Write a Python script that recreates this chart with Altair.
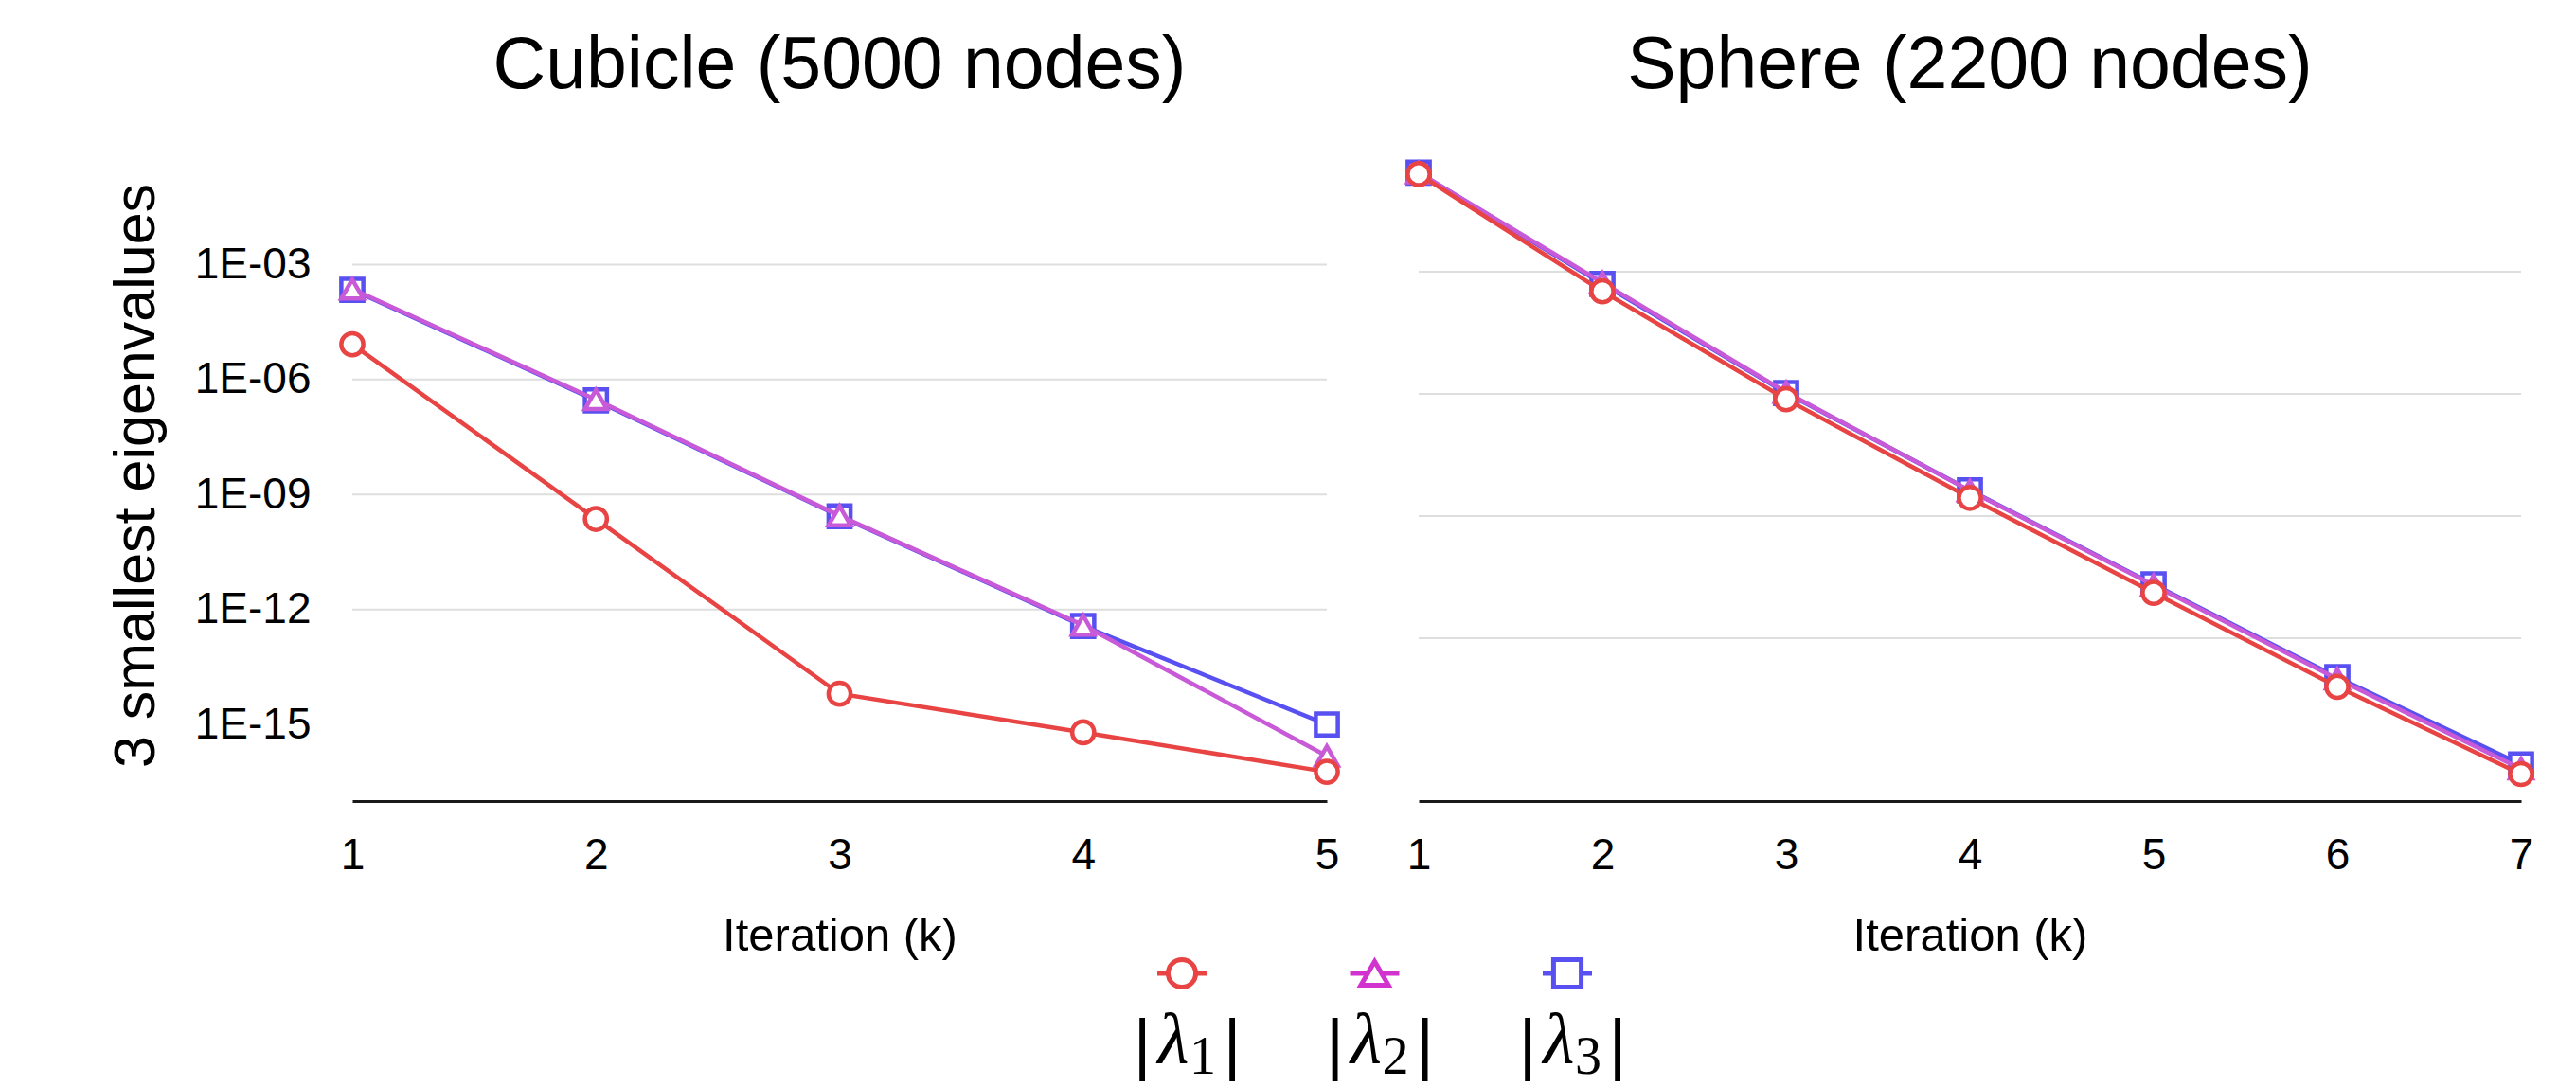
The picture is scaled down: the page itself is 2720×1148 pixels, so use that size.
import altair as alt
import pandas as pd

# ---------------- data ----------------
series_names = ["λ1", "λ2", "λ3"]
series_subs = ["1", "2", "3"]
series_colors = ["#E84444", "#C85AD7", "#5850F0"]
legend_colors = ["#E84444", "#D233CE", "#5850F0"]
series_shapes = ["circle", "triangle-up", "square"]

cube_iter = [1, 2, 3, 4, 5]
cube_l1 = [8.3e-6, 2.3e-10, 6.3e-15, 6.2e-16, 5.8e-17]
cube_l2 = [2.3e-4, 3.0e-7, 2.8e-10, 3.9e-13, 1.5e-16]
cube_l3 = [2.2e-4, 2.85e-7, 2.7e-10, 3.7e-13, 1.0e-15]

sph_iter = [1, 2, 3, 4, 5, 6, 7]
sph_l1 = [0.25, 3.3e-4, 7.4e-7, 2.8e-9, 1.3e-11, 6.4e-14, 4.6e-16]
sph_l2 = [0.27, 5.4e-4, 1.1e-6, 4.2e-9, 2.0e-11, 1.0e-13, 6.2e-16]
sph_l3 = [0.27, 5.0e-4, 1.05e-6, 4.3e-9, 2.1e-11, 1.1e-13, 7.9e-16]

y_tick_vals = [1e-3, 1e-6, 1e-9, 1e-12, 1e-15]
grid_vals = [1e-3, 1e-6, 1e-9, 1e-12]

FONT = "Liberation Sans"
LABEL_EXPR = ("'1E-' + (-round(log(datum.value)/LN10) < 10 ? '0' : '') + "
              "(-round(log(datum.value)/LN10))")
PLOT_H = 688
LEG_Y = 526  # legend row offset below the panel's vertical centre


def legend_layer():
    leg_df = pd.DataFrame({"s": series_names, "sub": series_subs})
    lx = alt.X("s:N", scale=alt.Scale(type="point", domain=series_names,
                                      range=[876, 1283], padding=0), axis=None)
    leg_color = alt.Color("s:N", scale=alt.Scale(domain=series_names,
                                                 range=legend_colors), legend=None)
    leg_stroke = alt.Stroke("s:N", scale=alt.Scale(domain=series_names,
                                                   range=legend_colors), legend=None)
    leg_shape = alt.Shape("s:N", scale=alt.Scale(domain=series_names,
                                                 range=series_shapes), legend=None)
    lbase = alt.Chart(leg_df)
    leg_line = lbase.mark_point(shape="stroke", size=2704, strokeWidth=5,
                                filled=False, opacity=1, yOffset=LEG_Y).encode(
        x=lx, color=leg_color)
    leg_sym = lbase.mark_point(filled=True, fill="white", strokeWidth=5, size=850,
                               opacity=1, yOffset=LEG_Y).encode(
        x=lx, stroke=leg_stroke, shape=leg_shape)
    bar_l = lbase.mark_text(text="|", font=FONT, fontSize=72, dx=-42,
                            dy=LEG_Y + 77, color="black").encode(x=lx)
    bar_r = lbase.mark_text(text="|", font=FONT, fontSize=72, dx=53,
                            dy=LEG_Y + 77, color="black").encode(x=lx)
    lam = lbase.mark_text(text="λ", font="Liberation Serif", fontStyle="italic",
                          fontSize=76, dx=-9, dy=LEG_Y + 72,
                          color="black").encode(x=lx)
    sub = lbase.mark_text(font="Liberation Serif", fontSize=56, dx=22,
                          dy=LEG_Y + 89, color="black").encode(x=lx, text="sub:N")
    return alt.layer(leg_line, leg_sym, bar_l, bar_r, lam, sub)


def panel(iters, values, title, width, ydomain, show_y, with_legend=False):
    xaxis = alt.Axis(values=iters, format="d", title="Iteration (k)", grid=False,
                     ticks=False, domainColor="#1a1a1a", domainWidth=3,
                     labelFontSize=46, labelPadding=35, labelColor="black",
                     labelFont=FONT, titleFont=FONT, titleFontSize=49,
                     titleFontWeight="normal", titleColor="black", titlePadding=38,
                     labelFlush=False)
    if show_y:
        yaxis = alt.Axis(values=y_tick_vals, labelExpr=LABEL_EXPR, grid=False,
                         ticks=False, domain=False, labelFontSize=46,
                         labelPadding=44, labelColor="black", labelFont=FONT,
                         title="3 smallest eigenvalues", titleFont=FONT,
                         titleFontSize=61, titleFontWeight="normal",
                         titleColor="black", titlePadding=30)
    else:
        yaxis = None
    xscale = alt.Scale(domain=[iters[0], iters[-1]], nice=False, zero=False)
    yscale = alt.Scale(type="log", domain=ydomain, nice=False)

    grid = alt.Chart(pd.DataFrame({"g": grid_vals})).mark_rule(
        color="#dedede", strokeWidth=2
    ).encode(y=alt.Y("g:Q", scale=yscale, axis=yaxis))

    layers = [grid]
    order = list(range(len(series_names)))[::-1]
    for i in order:
        df = pd.DataFrame({"k": iters, "v": values[i]})
        base = alt.Chart(df).encode(
            x=alt.X("k:Q", scale=xscale, axis=xaxis),
            y=alt.Y("v:Q", scale=yscale, axis=yaxis),
        )
        layers.append(base.mark_line(color=series_colors[i], strokeWidth=4.5))
        layers.append(base.mark_point(shape=series_shapes[i], filled=True,
                                      fill="white", stroke=series_colors[i],
                                      strokeWidth=4.5, size=540, opacity=1))
    data_layer = alt.layer(*layers)
    if with_legend:
        out = alt.layer(data_layer, legend_layer()).resolve_scale(x="independent")
    else:
        out = data_layer
    return out.properties(
        width=width, height=PLOT_H,
        title=alt.TitleParams(title, fontSize=77, fontWeight="normal", font=FONT,
                              color="black", anchor="middle", frame="group",
                              offset=49),
    )


left = panel(cube_iter, [cube_l1, cube_l2, cube_l3], "Cubicle (5000 nodes)",
             1029, [1e-17, 1], True, with_legend=True)
right = panel(sph_iter, [sph_l1, sph_l2, sph_l3], "Sphere (2200 nodes)",
              1164, [1e-16, 1], False)

chart = alt.hconcat(left, right, spacing=97, bounds="flush").properties(
    padding={"left": 105, "top": 23, "right": 0, "bottom": 0}
).configure(font=FONT).configure_view(stroke=None)

chart.save("out.html", embed_options={"renderer": "svg", "actions": False})
